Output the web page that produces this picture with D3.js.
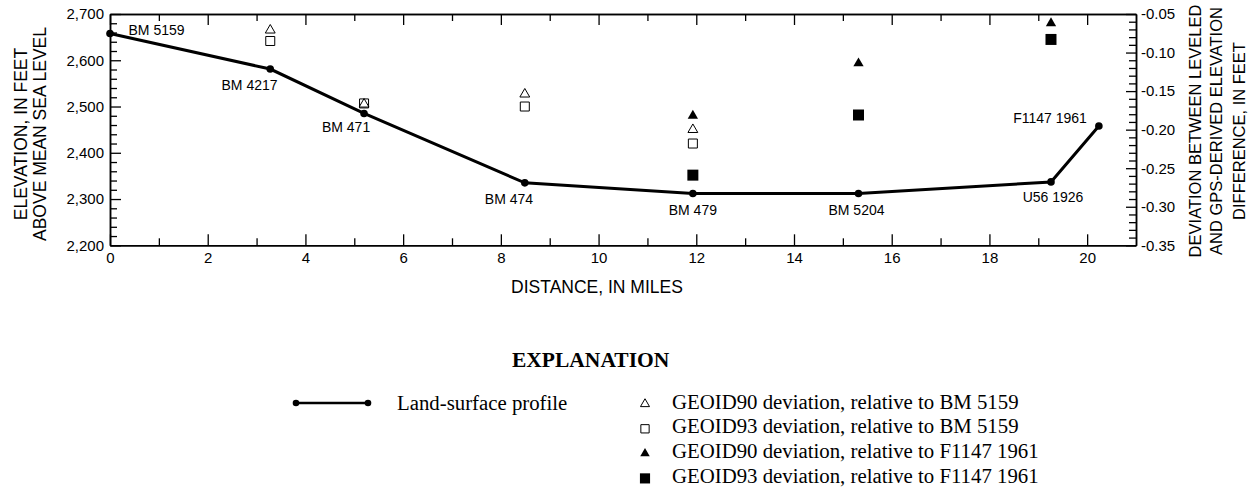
<!DOCTYPE html>
<html>
<head>
<meta charset="utf-8">
<script src="https://cdn.jsdelivr.net/npm/d3@7"></script>
<style>
  body { margin: 0; background: #fff; }
  svg text { font-family: "Liberation Sans", Arial, sans-serif; fill: #000; }
  .legend text { font-family: "Liberation Serif", "Times New Roman", serif; }
</style>
</head>
<body>
<svg id="chart" width="1250" height="498"></svg>
<script>
// land-surface profile (left axis)
var stations = ["BM 5159", "BM 4217", "BM 471", "BM 474", "BM 479", "BM 5204", "U56 1926", "F1147 1961"];
var stationMiles = [0, 3.28, 5.2, 8.49, 11.93, 15.32, 19.26, 20.24];
var elevationFt = [2658, 2581, 2485, 2335, 2312, 2312, 2337, 2458];

// deviations (right axis)
var g90BMMiles = [3.28, 5.2, 8.49, 11.93];
var g90BMDev = [-0.071, -0.167, -0.154, -0.200];
var g93BMMiles = [3.28, 5.2, 8.49, 11.93];
var g93BMDev = [-0.085, -0.166, -0.170, -0.218];
var g90FMiles = [11.93, 15.32, 19.26];
var g90FDev = [-0.182, -0.114, -0.062];
var g93FMiles = [11.93, 15.32, 19.26];
var g93FDev = [-0.259, -0.181, -0.083];

// ticks
var xTicks = [0, 2, 4, 6, 8, 10, 12, 14, 16, 18, 20];
var elevTicks = [2200, 2300, 2400, 2500, 2600, 2700];
var devTicks = [-0.35, -0.30, -0.25, -0.20, -0.15, -0.10, -0.05];

var legendLabels = [
  "GEOID90 deviation, relative to BM 5159",
  "GEOID93 deviation, relative to BM 5159",
  "GEOID90 deviation, relative to F1147 1961",
  "GEOID93 deviation, relative to F1147 1961"
];

var plotL = 110, plotR = 1136, plotT = 14, plotB = 245.3;
var svg = d3.select('#chart');

var x = d3.scaleLinear().domain([0, 21]).range([plotL, plotR]);
var yL = d3.scaleLinear().domain([2200, 2700]).range([plotB, plotT]);
var yR = d3.scaleLinear().domain([-0.35, -0.05]).range([plotB, plotT]);

function styleAxis(g, size) {
  g.attr('font-family', null).attr('font-size', size);
  g.selectAll('path').attr('stroke', '#000').attr('stroke-width', 1.5);
  g.selectAll('line').attr('stroke', '#000').attr('stroke-width', 1.3);
  g.selectAll('text').attr('fill', '#000');
}

var minorX = d3.range(1, 21, 2);
var minorL = d3.range(2200, 2701, 20).filter(function(d){ return d % 100 != 0; });
var minorR = d3.range(-35, -4, 1).filter(function(d){ return d % 5 != 0; }).map(function(d){ return d / 100; });

// bottom
svg.append('g').attr('transform', 'translate(0,' + plotB + ')')
  .call(d3.axisBottom(x).tickValues(minorX).tickSize(-7).tickSizeOuter(0).tickFormat(''))
  .call(styleAxis, 15);
svg.append('g').attr('transform', 'translate(0,' + plotB + ')')
  .call(d3.axisBottom(x).tickValues(xTicks).tickSize(-11).tickSizeOuter(0).tickPadding(7))
  .call(styleAxis, 15);
// top
svg.append('g').attr('transform', 'translate(0,' + plotT + ')')
  .call(d3.axisTop(x).tickValues(minorX).tickSize(-7).tickSizeOuter(0).tickFormat(''))
  .call(styleAxis, 15);
svg.append('g').attr('transform', 'translate(0,' + plotT + ')')
  .call(d3.axisTop(x).tickValues(xTicks).tickSize(-11).tickSizeOuter(0).tickFormat(''))
  .call(styleAxis, 15);
// left
svg.append('g').attr('transform', 'translate(' + plotL + ',0)')
  .call(d3.axisLeft(yL).tickValues(minorL).tickSize(-7).tickSizeOuter(0).tickFormat(''))
  .call(styleAxis, 15);
svg.append('g').attr('transform', 'translate(' + plotL + ',0)')
  .call(d3.axisLeft(yL).tickValues(elevTicks).tickSize(-11).tickSizeOuter(0).tickPadding(6).tickFormat(d3.format(',')))
  .call(styleAxis, 15);
// right
svg.append('g').attr('transform', 'translate(' + plotR + ',0)')
  .call(d3.axisRight(yR).tickValues(minorR).tickSize(-7).tickSizeOuter(0).tickFormat(''))
  .call(styleAxis, 15);
svg.append('g').attr('transform', 'translate(' + plotR + ',0)')
  .call(d3.axisRight(yR).tickValues(devTicks).tickSize(-10).tickSizeOuter(0).tickPadding(5)
    .tickFormat(function(d){ return d.toFixed(2); }))
  .call(styleAxis, 15);

// axis titles
svg.append('text').attr('x', 597).attr('y', 293).attr('text-anchor', 'middle')
  .attr('font-size', 17.5).text('DISTANCE, IN MILES');

var leftTitle = ["ELEVATION, IN FEET", "ABOVE MEAN SEA LEVEL"];
var leftX = [21, 40];
leftTitle.forEach(function(t, i){
  svg.append('text')
    .attr('transform', 'translate(' + leftX[i] + ',134) rotate(-90)')
    .attr('text-anchor', 'middle').attr('dy', '0.36em')
    .attr('font-size', 17.5).text(t);
});
var rightTitle = ["DEVIATION BETWEEN LEVELED", "AND GPS-DERIVED ELEVATION", "DIFFERENCE, IN FEET"];
var rightX = [1195.5, 1216.5, 1239];
rightTitle.forEach(function(t, i){
  svg.append('text')
    .attr('transform', 'translate(' + rightX[i] + ',131) rotate(-90)')
    .attr('text-anchor', 'middle').attr('dy', '0.36em')
    .attr('font-size', 16.5).text(t);
});

// profile line
var profile = stationMiles.map(function(d, i){ return [d, elevationFt[i]]; });
var line = d3.line().x(function(d){ return x(d[0]); }).y(function(d){ return yL(d[1]); });
svg.append('path').datum(profile)
  .attr('d', line).attr('fill', 'none').attr('stroke', '#000').attr('stroke-width', 3);
svg.selectAll('.stn').data(profile).enter().append('circle')
  .attr('cx', function(d){ return x(d[0]); })
  .attr('cy', function(d){ return yL(d[1]); })
  .attr('r', 3.8).attr('fill', '#000');

// station label placement: [dx, dy, anchor]
var place = [
  [18.5, -3, 'start'], [-20.7, 16, 'middle'], [-18, 13.4, 'middle'], [-15.8, 16.3, 'middle'],
  [0, 16.7, 'middle'], [-2, 16.7, 'middle'], [2, 14.7, 'middle'], [-12, -7.7, 'end']
];
svg.selectAll('.lbl').data(profile).enter().append('text')
  .attr('x', function(d, i){ return x(d[0]) + place[i][0]; })
  .attr('y', function(d, i){ return yL(d[1]) + place[i][1]; })
  .attr('dy', '0.36em')
  .attr('text-anchor', function(d, i){ return place[i][2]; })
  .attr('font-size', 14)
  .text(function(d, i){ return stations[i]; });

// deviation markers
var series = [
  { miles: g90BMMiles, dev: g90BMDev, type: d3.symbolTriangle, size: 42, fill: 'none' },
  { miles: g93BMMiles, dev: g93BMDev, type: d3.symbolSquare, size: 81, fill: 'none' },
  { miles: g90FMiles, dev: g90FDev, type: d3.symbolTriangle, size: 46, fill: '#000' },
  { miles: g93FMiles, dev: g93FDev, type: d3.symbolSquare, size: 121, fill: '#000' }
];
series.forEach(function(s){
  var sym = d3.symbol().type(s.type).size(s.size);
  svg.selectAll(null).data(s.miles).enter().append('path')
    .attr('d', sym)
    .attr('transform', function(d, i){ return 'translate(' + x(d) + ',' + yR(s.dev[i]) + ')'; })
    .attr('fill', s.fill)
    .attr('stroke', '#000')
    .attr('stroke-width', s.fill == 'none' ? 1 : 0);
});

// legend
var lg = svg.append('g').attr('class', 'legend');
lg.append('text').attr('x', 512).attr('y', 367).attr('font-size', 21.5).attr('font-weight', 'bold')
  .text('EXPLANATION');
lg.append('line').attr('x1', 296).attr('x2', 368).attr('y1', 403).attr('y2', 403)
  .attr('stroke', '#000').attr('stroke-width', 2.5);
lg.selectAll('circle').data([296, 368]).enter().append('circle')
  .attr('cx', function(d){ return d; }).attr('cy', 403).attr('r', 3.3).attr('fill', '#000');
lg.append('text').attr('x', 397).attr('y', 410).attr('font-size', 20.8).text('Land-surface profile');

legendLabels.forEach(function(t, i){
  var by = 408.5 + i * 24.8;
  var s = series[i];
  lg.append('path').attr('d', d3.symbol().type(s.type).size(s.size * 0.85))
    .attr('transform', 'translate(645,' + (by - 4.5) + ')')
    .attr('fill', s.fill).attr('stroke', '#000')
    .attr('stroke-width', s.fill == 'none' ? 1 : 0);
  lg.append('text').attr('x', 672).attr('y', by).attr('font-size', 20.8).text(t);
});
</script>
</body>
</html>
